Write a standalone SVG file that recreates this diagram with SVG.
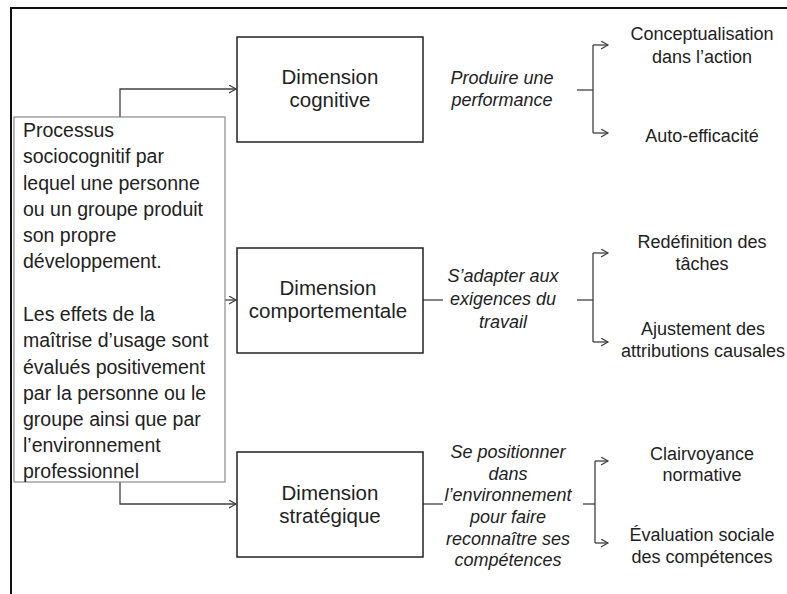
<svg xmlns="http://www.w3.org/2000/svg" width="787" height="594" viewBox="0 0 787 594">
<defs>
<marker id="arr" markerWidth="10" markerHeight="10" refX="7" refY="4" orient="auto" markerUnits="userSpaceOnUse">
<path d="M0,0 L7,4 L0,8" fill="none" stroke="#404040" stroke-width="1.2"/>
</marker>
<style>
text{font-family:"Liberation Sans",Arial,sans-serif;fill:#222}
.lt{font-size:19.5px}
.bx{font-size:20.5px;text-anchor:middle}
.it{font-size:18px;font-style:italic;text-anchor:middle}
.rt{font-size:18px;text-anchor:middle}
.dim{fill:#fff;stroke:#222;stroke-width:1.5}
.con{fill:none;stroke:#404040;stroke-width:1.3}
</style>
</defs>
<rect width="787" height="594" fill="#fff"/>
<g id="frame">
<line x1="10" y1="8" x2="787" y2="8" stroke="#111" stroke-width="2"/>
<line x1="11" y1="7" x2="11" y2="594" stroke="#111" stroke-width="2"/>
</g>
<g id="connectors">
<path class="con" d="M120,117 V89 H236" marker-end="url(#arr)"/>
<path class="con" d="M225,300 H236" marker-end="url(#arr)"/>
<path class="con" d="M120,482 V504 H236" marker-end="url(#arr)"/>
<path class="con" d="M577,90 H593"/>
<path class="con" d="M593,45 V133"/>
<path class="con" d="M593,45 H608" marker-end="url(#arr)"/>
<path class="con" d="M593,133 H608" marker-end="url(#arr)"/>
<path class="con" d="M423,300 H443"/>
<path class="con" d="M577,300 H593"/>
<path class="con" d="M593,253 V342"/>
<path class="con" d="M593,253 H608" marker-end="url(#arr)"/>
<path class="con" d="M593,342 H608" marker-end="url(#arr)"/>
<path class="con" d="M423,504 H443"/>
<path class="con" d="M583,504 H595"/>
<path class="con" d="M595,461 V543"/>
<path class="con" d="M595,461 H608" marker-end="url(#arr)"/>
<path class="con" d="M595,543 H608" marker-end="url(#arr)"/>
</g>
<g id="processus">
<rect x="14" y="117" width="211" height="365" fill="#fff" stroke="#8a8a8a" stroke-width="1.2"/>
<text class="lt" x="23" y="137">Processus</text>
<text class="lt" x="23" y="163">sociocognitif par</text>
<text class="lt" x="23" y="189.5">lequel une personne</text>
<text class="lt" x="23" y="216">ou un groupe produit</text>
<text class="lt" x="23" y="242">son propre</text>
<text class="lt" x="23" y="268">développement.</text>
<text class="lt" x="23" y="321">Les effets de la</text>
<text class="lt" x="23" y="347">maîtrise d’usage sont</text>
<text class="lt" x="23" y="373.5">évalués positivement</text>
<text class="lt" x="23" y="400">par la personne ou le</text>
<text class="lt" x="23" y="426">groupe ainsi que par</text>
<text class="lt" x="23" y="452">l’environnement</text>
<text class="lt" x="23" y="478">professionnel</text>
</g>
<g id="dim-cognitive">
<rect class="dim" x="237" y="37" width="186" height="105"/>
<text class="bx" x="330" y="84">Dimension</text>
<text class="bx" x="330" y="107">cognitive</text>
</g>
<g id="dim-comportementale">
<rect class="dim" x="237" y="248" width="186" height="105"/>
<text class="bx" x="328" y="295">Dimension</text>
<text class="bx" x="328" y="318">comportementale</text>
</g>
<g id="dim-strategique">
<rect class="dim" x="237" y="452" width="186" height="105"/>
<text class="bx" x="330" y="500">Dimension</text>
<text class="bx" x="330" y="523">stratégique</text>
</g>
<g id="label-cognitive">
<text class="it" x="502" y="84">Produire une</text>
<text class="it" x="502" y="106">performance</text>
</g>
<g id="label-comportementale">
<text class="it" x="503" y="282">S’adapter aux</text>
<text class="it" x="503" y="305">exigences du</text>
<text class="it" x="503" y="328">travail</text>
</g>
<g id="label-strategique">
<text class="it" x="508" y="458">Se positionner</text>
<text class="it" x="508" y="480">dans</text>
<text class="it" x="508" y="501">l’environnement</text>
<text class="it" x="508" y="523">pour faire</text>
<text class="it" x="508" y="545">reconnaître ses</text>
<text class="it" x="508" y="566">compétences</text>
</g>
<g id="conceptualisation">
<text class="rt" x="702" y="40">Conceptualisation</text>
<text class="rt" x="702" y="63">dans l’action</text>
</g>
<g id="auto-efficacite">
<text class="rt" x="702" y="142">Auto-efficacité</text>
</g>
<g id="redefinition">
<text class="rt" x="702" y="248">Redéfinition des</text>
<text class="rt" x="702" y="270">tâches</text>
</g>
<g id="ajustement">
<text class="rt" x="703" y="335">Ajustement des</text>
<text class="rt" x="703" y="357">attributions causales</text>
</g>
<g id="clairvoyance">
<text class="rt" x="702" y="460">Clairvoyance</text>
<text class="rt" x="702" y="481">normative</text>
</g>
<g id="evaluation">
<text class="rt" x="702" y="541">Évaluation sociale</text>
<text class="rt" x="702" y="563">des compétences</text>
</g>
</svg>
